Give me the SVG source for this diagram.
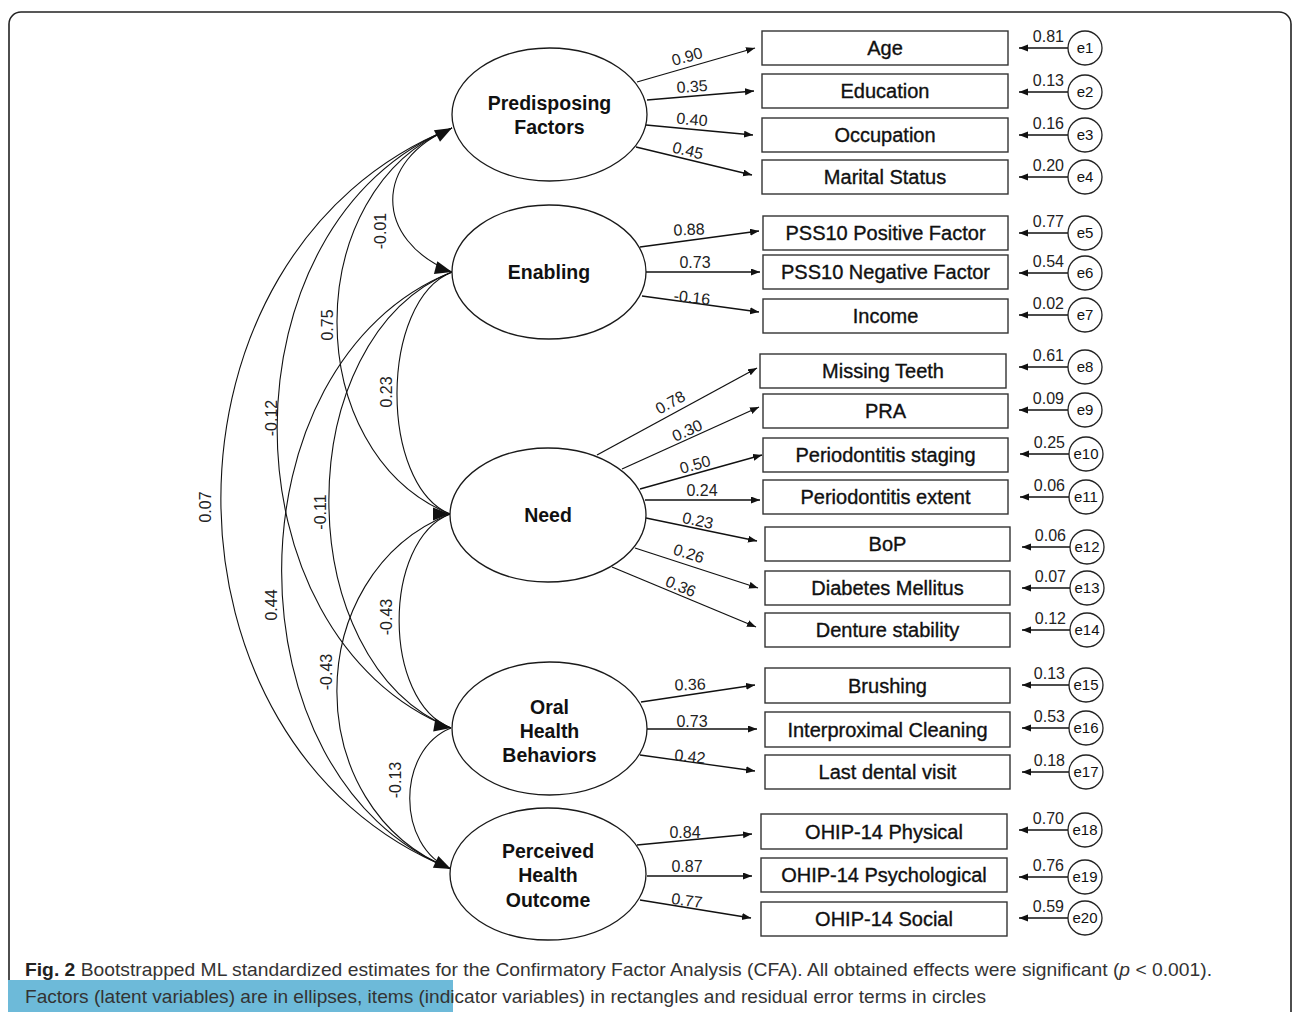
<svg xmlns="http://www.w3.org/2000/svg" width="1292" height="1012" viewBox="0 0 1292 1012">
<style>
.fr{fill:none;stroke:#222;stroke-width:1.6}
.el{fill:#fff;stroke:#1a1a1a;stroke-width:1.3}
.ft{font-family:"Liberation Sans",Arial,sans-serif;font-weight:bold;font-size:19.5px;fill:#111;text-anchor:middle}
.bx{fill:#fff;stroke:#333;stroke-width:1.4}
.bt{font-family:"Liberation Sans",Arial,sans-serif;font-size:20px;fill:#111;stroke:#111;stroke-width:0.35;text-anchor:middle}
.lb{font-family:"Liberation Sans",Arial,sans-serif;font-size:16px;fill:#222;text-anchor:middle}
.ln{fill:none;stroke:#111;stroke-width:1.3;marker-end:url(#sa)}
.cv{fill:none;stroke:#111;stroke-width:1.1}
.ah{fill:#111}
.ec{fill:#fff;stroke:#222;stroke-width:1.3}
.et{font-family:"Liberation Sans",Arial,sans-serif;font-size:15px;fill:#111;text-anchor:middle}
.el2{font-family:"Liberation Sans",Arial,sans-serif;font-size:16px;fill:#222;text-anchor:end}
.cap{font-family:"Liberation Sans Narrow","Liberation Sans",Arial,sans-serif;font-size:19px;fill:#333}
</style>
<defs>
<marker id="sa" markerUnits="userSpaceOnUse" markerWidth="10" markerHeight="8" refX="9" refY="3.5" orient="auto"><path d="M0,0 L9,3.5 L0,7 z" fill="#111"/></marker>
</defs>
<rect class="fr" x="9" y="12" width="1282" height="1100" rx="12"/>

<g id="connectors">
<!-- covariances -->
<path class="cv" d="M452,128 C373,160 373,240 452,272"/>
<path class="cv" d="M452,128 C299,189 299,453 450,514"/>
<path class="cv" d="M452,128 C219,221 219,635 451,728"/>
<path class="cv" d="M452,128 C144,251 144,746 451,869"/>
<path class="cv" d="M452,272 C379,301 379,485 450,514"/>
<path class="cv" d="M452,272 C288,338 288,662 451,728"/>
<path class="cv" d="M452,272 C225,362 225,779 451,869"/>
<path class="cv" d="M450,514 C382,541 382,701 451,728"/>
<path class="cv" d="M450,514 C299,574 299,809 451,869"/>
<path class="cv" d="M451,728 C396,750 396,847 451,869"/>
<polygon class="ah" points="452,128 440,141.7 433.9,130.2"/>
<polygon class="ah" points="452,272 433.9,273.9 437.3,261.3"/>
<polygon class="ah" points="450,514 433,520.5 433,507.5"/>
<polygon class="ah" points="451,728 433.2,731.4 435.4,718.6"/>
<polygon class="ah" points="451,869 432.9,867.7 438.4,855.9"/>
<g class="lb">
<text transform="translate(380,231) rotate(-90)" y="6">-0.01</text>
<text transform="translate(327,325) rotate(-90)" y="6">0.75</text>
<text transform="translate(271,418) rotate(-90)" y="6">-0.12</text>
<text transform="translate(205,507) rotate(-90)" y="6">0.07</text>
<text transform="translate(386,392) rotate(-90)" y="6">0.23</text>
<text transform="translate(320,512) rotate(-90)" y="6">-0.11</text>
<text transform="translate(271,605) rotate(-90)" y="6">0.44</text>
<text transform="translate(386,617) rotate(-90)" y="6">-0.43</text>
<text transform="translate(326,672) rotate(-90)" y="6">-0.43</text>
<text transform="translate(395,780) rotate(-90)" y="6">-0.13</text>
</g>
<!-- loadings -->
<line class="ln" x1="637" y1="82" x2="755" y2="48"/>
<line class="ln" x1="647" y1="100" x2="754" y2="91"/>
<line class="ln" x1="646" y1="125" x2="753" y2="135"/>
<line class="ln" x1="636" y1="147" x2="752" y2="175"/>
<line class="ln" x1="640" y1="247" x2="759" y2="231"/>
<line class="ln" x1="646" y1="272" x2="760" y2="272"/>
<line class="ln" x1="642" y1="296" x2="759" y2="312"/>
<line class="ln" x1="597" y1="455" x2="757" y2="368"/>
<line class="ln" x1="622" y1="469" x2="759" y2="407"/>
<line class="ln" x1="640" y1="489" x2="762" y2="455"/>
<line class="ln" x1="645" y1="500" x2="760" y2="500"/>
<line class="ln" x1="646" y1="518" x2="757" y2="541"/>
<line class="ln" x1="635" y1="548" x2="758" y2="588"/>
<line class="ln" x1="612" y1="567" x2="756" y2="627"/>
<line class="ln" x1="641" y1="702" x2="755" y2="685"/>
<line class="ln" x1="647" y1="729" x2="757" y2="729"/>
<line class="ln" x1="640" y1="755" x2="755" y2="771"/>
<line class="ln" x1="637" y1="845" x2="752" y2="834"/>
<line class="ln" x1="647" y1="876" x2="752" y2="876"/>
<line class="ln" x1="640" y1="900" x2="751" y2="918"/>
<g class="lb">
<text transform="translate(687,56) rotate(-15.6)" y="6">0.90</text>
<text transform="translate(692,86) rotate(-4)" y="6">0.35</text>
<text transform="translate(692,119) rotate(5)" y="6">0.40</text>
<text transform="translate(688,150) rotate(13.6)" y="6">0.45</text>
<text transform="translate(689,229) rotate(-3)" y="6">0.88</text>
<text transform="translate(695,262)" y="6">0.73</text>
<text transform="translate(692,297) rotate(6)" y="6">-0.16</text>
<text transform="translate(670,402) rotate(-28.5)" y="6">0.78</text>
<text transform="translate(687,430) rotate(-24.4)" y="6">0.30</text>
<text transform="translate(695,464) rotate(-15.6)" y="6">0.50</text>
<text transform="translate(702,490)" y="6">0.24</text>
<text transform="translate(698,520) rotate(11.7)" y="6">0.23</text>
<text transform="translate(689,553) rotate(18)" y="6">0.26</text>
<text transform="translate(681,586) rotate(22.6)" y="6">0.36</text>
<text transform="translate(690,684) rotate(-2)" y="6">0.36</text>
<text transform="translate(692,721)" y="6">0.73</text>
<text transform="translate(690,756) rotate(6)" y="6">0.42</text>
<text transform="translate(685,832)" y="6">0.84</text>
<text transform="translate(687,866)" y="6">0.87</text>
<text transform="translate(687,900) rotate(8)" y="6">0.77</text>
</g>
<!-- error arrows -->
<line class="ln" x1="1068" y1="48" x2="1019" y2="48"/>
<line class="ln" x1="1068" y1="92" x2="1019" y2="92"/>
<line class="ln" x1="1068" y1="135" x2="1019" y2="135"/>
<line class="ln" x1="1068" y1="177" x2="1019" y2="177"/>
<line class="ln" x1="1068" y1="233" x2="1019" y2="233"/>
<line class="ln" x1="1068" y1="273" x2="1019" y2="273"/>
<line class="ln" x1="1068" y1="315" x2="1019" y2="315"/>
<line class="ln" x1="1068" y1="367" x2="1019" y2="367"/>
<line class="ln" x1="1068" y1="410" x2="1019" y2="410"/>
<line class="ln" x1="1069" y1="454" x2="1020" y2="454"/>
<line class="ln" x1="1069" y1="497" x2="1020" y2="497"/>
<line class="ln" x1="1070" y1="547" x2="1022" y2="547"/>
<line class="ln" x1="1070" y1="588" x2="1022" y2="588"/>
<line class="ln" x1="1070" y1="630" x2="1022" y2="630"/>
<line class="ln" x1="1069" y1="685" x2="1022" y2="685"/>
<line class="ln" x1="1069" y1="728" x2="1022" y2="728"/>
<line class="ln" x1="1069" y1="772" x2="1022" y2="772"/>
<line class="ln" x1="1068" y1="830" x2="1019" y2="830"/>
<line class="ln" x1="1068" y1="877" x2="1019" y2="877"/>
<line class="ln" x1="1068" y1="918" x2="1019" y2="918"/>
<g class="el2">
<text x="1064" y="42">0.81</text>
<text x="1064" y="86">0.13</text>
<text x="1064" y="129">0.16</text>
<text x="1064" y="171">0.20</text>
<text x="1064" y="227">0.77</text>
<text x="1064" y="267">0.54</text>
<text x="1064" y="309">0.02</text>
<text x="1064" y="361">0.61</text>
<text x="1064" y="404">0.09</text>
<text x="1065" y="448">0.25</text>
<text x="1065" y="491">0.06</text>
<text x="1066" y="541">0.06</text>
<text x="1066" y="582">0.07</text>
<text x="1066" y="624">0.12</text>
<text x="1065" y="679">0.13</text>
<text x="1065" y="722">0.53</text>
<text x="1065" y="766">0.18</text>
<text x="1064" y="824">0.70</text>
<text x="1064" y="871">0.76</text>
<text x="1064" y="912">0.59</text>
</g>
</g>

<g id="predisposing"><ellipse class="el" cx="549.5" cy="114.5" rx="97.5" ry="66.5"/><text class="ft" x="549.5" y="110">Predisposing</text><text class="ft" x="549.5" y="134">Factors</text></g>
<g id="enabling"><ellipse class="el" cx="549" cy="272" rx="97" ry="67"/><text class="ft" x="549" y="279">Enabling</text></g>
<g id="need"><ellipse class="el" cx="548" cy="515" rx="98" ry="67"/><text class="ft" x="548" y="522">Need</text></g>
<g id="ohb"><ellipse class="el" cx="549.5" cy="728.5" rx="97.5" ry="66.5"/><text class="ft" x="549.5" y="714">Oral</text><text class="ft" x="549.5" y="738">Health</text><text class="ft" x="549.5" y="762">Behaviors</text></g>
<g id="pho"><ellipse class="el" cx="548" cy="874" rx="98" ry="66"/><text class="ft" x="548" y="858">Perceived</text><text class="ft" x="548" y="882">Health</text><text class="ft" x="548" y="907">Outcome</text></g>

<g id="age"><rect class="bx" x="762" y="31" width="246" height="34"/><text class="bt" x="885" y="55">Age</text></g>
<g id="education"><rect class="bx" x="762" y="74" width="246" height="34"/><text class="bt" x="885" y="98">Education</text></g>
<g id="occupation"><rect class="bx" x="762" y="118" width="246" height="34"/><text class="bt" x="885" y="142">Occupation</text></g>
<g id="marital"><rect class="bx" x="762" y="160" width="246" height="34"/><text class="bt" x="885" y="184">Marital Status</text></g>
<g id="pss10pos"><rect class="bx" x="763" y="216" width="245" height="34"/><text class="bt" x="885.5" y="240">PSS10 Positive Factor</text></g>
<g id="pss10neg"><rect class="bx" x="763" y="255" width="245" height="34"/><text class="bt" x="885.5" y="279">PSS10 Negative Factor</text></g>
<g id="income"><rect class="bx" x="763" y="299" width="245" height="34"/><text class="bt" x="885.5" y="323">Income</text></g>
<g id="missing"><rect class="bx" x="760" y="354" width="246" height="34"/><text class="bt" x="883" y="378">Missing Teeth</text></g>
<g id="pra"><rect class="bx" x="763" y="394" width="245" height="34"/><text class="bt" x="885.5" y="418">PRA</text></g>
<g id="staging"><rect class="bx" x="763" y="438" width="245" height="34"/><text class="bt" x="885.5" y="462">Periodontitis staging</text></g>
<g id="extent"><rect class="bx" x="763" y="480" width="245" height="34"/><text class="bt" x="885.5" y="504">Periodontitis extent</text></g>
<g id="bop"><rect class="bx" x="765" y="527" width="245" height="34"/><text class="bt" x="887.5" y="551">BoP</text></g>
<g id="diabetes"><rect class="bx" x="765" y="571" width="245" height="34"/><text class="bt" x="887.5" y="595">Diabetes Mellitus</text></g>
<g id="denture"><rect class="bx" x="765" y="613" width="245" height="34"/><text class="bt" x="887.5" y="637">Denture stability</text></g>
<g id="brushing"><rect class="bx" x="765" y="668" width="245" height="35"/><text class="bt" x="887.5" y="693">Brushing</text></g>
<g id="interprox"><rect class="bx" x="765" y="712" width="245" height="35"/><text class="bt" x="887.5" y="737">Interproximal Cleaning</text></g>
<g id="lastvisit"><rect class="bx" x="765" y="755" width="245" height="34"/><text class="bt" x="887.5" y="779">Last dental visit</text></g>
<g id="physical"><rect class="bx" x="761" y="814" width="246" height="35"/><text class="bt" x="884" y="839">OHIP-14 Physical</text></g>
<g id="psych"><rect class="bx" x="761" y="858" width="246" height="34"/><text class="bt" x="884" y="882">OHIP-14 Psychological</text></g>
<g id="social"><rect class="bx" x="761" y="902" width="246" height="34"/><text class="bt" x="884" y="926">OHIP-14 Social</text></g>

<g id="e1"><circle class="ec" cx="1085" cy="48" r="17"/><text class="et" x="1085" y="53">e1</text></g>
<g id="e2"><circle class="ec" cx="1085" cy="92" r="17"/><text class="et" x="1085" y="97">e2</text></g>
<g id="e3"><circle class="ec" cx="1085" cy="135" r="17"/><text class="et" x="1085" y="140">e3</text></g>
<g id="e4"><circle class="ec" cx="1085" cy="177" r="17"/><text class="et" x="1085" y="182">e4</text></g>
<g id="e5"><circle class="ec" cx="1085" cy="233" r="17"/><text class="et" x="1085" y="238">e5</text></g>
<g id="e6"><circle class="ec" cx="1085" cy="273" r="17"/><text class="et" x="1085" y="278">e6</text></g>
<g id="e7"><circle class="ec" cx="1085" cy="315" r="17"/><text class="et" x="1085" y="320">e7</text></g>
<g id="e8"><circle class="ec" cx="1085" cy="367" r="17"/><text class="et" x="1085" y="372">e8</text></g>
<g id="e9"><circle class="ec" cx="1085" cy="410" r="17"/><text class="et" x="1085" y="415">e9</text></g>
<g id="e10"><circle class="ec" cx="1086" cy="454" r="17"/><text class="et" x="1086" y="459">e10</text></g>
<g id="e11"><circle class="ec" cx="1086" cy="497" r="17"/><text class="et" x="1086" y="502">e11</text></g>
<g id="e12"><circle class="ec" cx="1087" cy="547" r="17"/><text class="et" x="1087" y="552">e12</text></g>
<g id="e13"><circle class="ec" cx="1087" cy="588" r="17"/><text class="et" x="1087" y="593">e13</text></g>
<g id="e14"><circle class="ec" cx="1087" cy="630" r="17"/><text class="et" x="1087" y="635">e14</text></g>
<g id="e15"><circle class="ec" cx="1086" cy="685" r="17"/><text class="et" x="1086" y="690">e15</text></g>
<g id="e16"><circle class="ec" cx="1086" cy="728" r="17"/><text class="et" x="1086" y="733">e16</text></g>
<g id="e17"><circle class="ec" cx="1086" cy="772" r="17"/><text class="et" x="1086" y="777">e17</text></g>
<g id="e18"><circle class="ec" cx="1085" cy="830" r="17"/><text class="et" x="1085" y="835">e18</text></g>
<g id="e19"><circle class="ec" cx="1085" cy="877" r="17"/><text class="et" x="1085" y="882">e19</text></g>
<g id="e20"><circle class="ec" cx="1085" cy="918" r="17"/><text class="et" x="1085" y="923">e20</text></g>

<rect x="8" y="980" width="445" height="32" fill="#6DBAD9"/>
<text class="cap" x="25" y="976" textLength="1187" lengthAdjust="spacingAndGlyphs"><tspan font-weight="bold" fill="#222">Fig. 2</tspan> Bootstrapped ML standardized estimates for the Confirmatory Factor Analysis (CFA). All obtained effects were significant (<tspan font-style="italic">p</tspan> &lt; 0.001).</text>
<text class="cap" x="25" y="1003" textLength="961" lengthAdjust="spacingAndGlyphs">Factors (latent variables) are in ellipses, items (indicator variables) in rectangles and residual error terms in circles</text>
</svg>
